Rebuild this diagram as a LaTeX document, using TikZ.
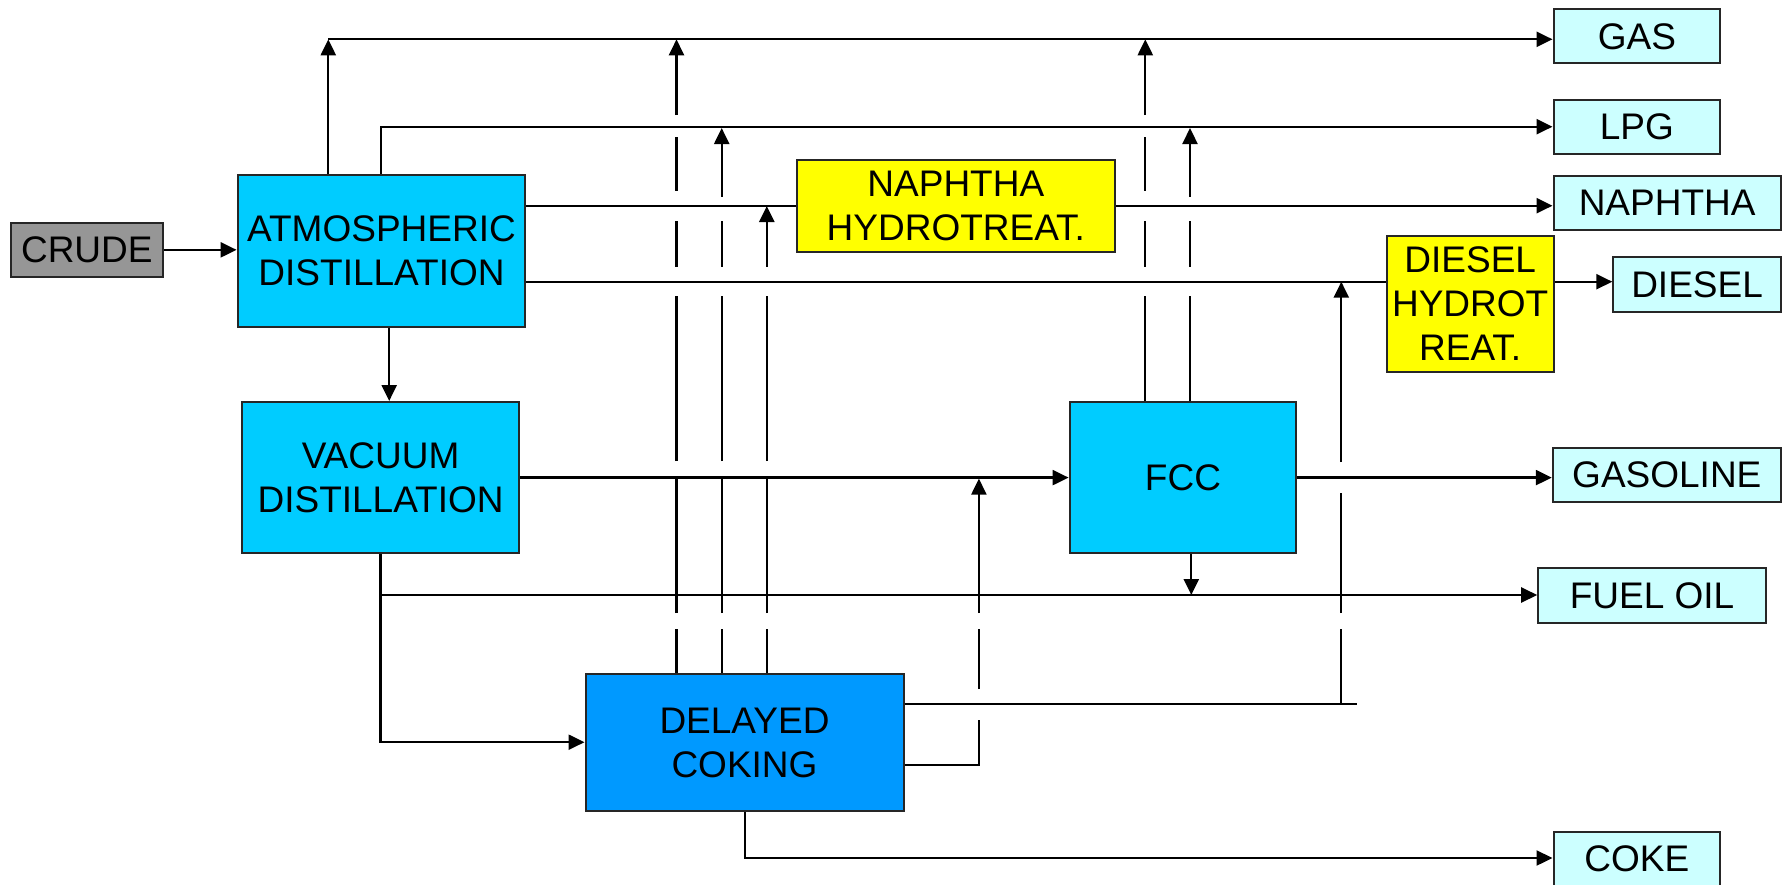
\documentclass[tikz,border=0pt]{standalone}
\usepackage{fontspec}
\setmainfont{Liberation Sans}
\usetikzlibrary{arrows.meta}
\definecolor{unitcyan}{HTML}{00CCFF}
\definecolor{cokeblue}{HTML}{0099FF}
\definecolor{prodcyan}{HTML}{CCFFFF}
\definecolor{crudegray}{HTML}{969696}
\definecolor{htyellow}{HTML}{FFFF00}
\definecolor{edgegray}{HTML}{262626}
\begin{document}
\begin{tikzpicture}[x=1pt,y=-1pt,
  box/.style={draw=edgegray,line width=2pt,inner sep=0pt,align=center,font=\fontsize{37}{44}\selectfont},
  unitbox/.style={box,fill=unitcyan},
  cokebox/.style={box,fill=cokeblue},
  prodbox/.style={box,fill=prodcyan},
  htbox/.style={box,fill=htyellow},
  feedbox/.style={box,fill=crudegray},
  flow/.style={line width=2.3pt,line cap=butt,draw=black},
  arr/.style={flow,-{Triangle[length=16pt,width=15pt]}}]
\useasboundingbox (0,0) rectangle (1786,884);
% nodes
\node[feedbox,minimum width=152.3pt,minimum height=54.3pt] (crude) at (86.85,249.85) {CRUDE};
\node[unitbox,minimum width=287.8pt,minimum height=151.7pt] (atm) at (381.5,250.85) {ATMOSPHERIC\\DISTILLATION};
\node[unitbox,minimum width=277.4pt,minimum height=151.4pt] (vac) at (380.6,477.7) {VACUUM\\DISTILLATION};
\node[htbox,minimum width=318.3pt,minimum height=91.7pt] (nht) at (955.85,206.15) {NAPHTHA\\HYDROTREAT.};
\node[htbox,minimum width=166.6pt,minimum height=135.7pt] (dht) at (1470.2,303.85) {DIESEL\\HYDROT\\REAT.};
\node[unitbox,minimum width=226.8pt,minimum height=151pt] (fcc) at (1183,477.5) {FCC};
\node[cokebox,minimum width=318pt,minimum height=137pt] (dc) at (744.5,742.5) {DELAYED\\COKING};
\node[prodbox,minimum width=166.7pt,minimum height=54pt] (gas) at (1636.85,36.3) {GAS};
\node[prodbox,minimum width=166.7pt,minimum height=54.3pt] (lpg) at (1636.85,126.85) {LPG};
\node[prodbox,minimum width=227.3pt,minimum height=54.3pt] (naph) at (1667.15,202.85) {NAPHTHA};
\node[prodbox,minimum width=167.5pt,minimum height=54.7pt] (diesel) at (1697.05,284.35) {DIESEL};
\node[prodbox,minimum width=228pt,minimum height=54.6pt] (gasoline) at (1666.8,475) {GASOLINE};
\node[prodbox,minimum width=227.6pt,minimum height=54.7pt] (fueloil) at (1652,595.65) {FUEL OIL};
\node[prodbox,minimum width=166.7pt,minimum height=54.6pt] (coke) at (1636.85,859) {COKE};
% junction coordinates
\coordinate (gA) at (328.3,39.3);
\coordinate (lA) at (381,126.7);
\coordinate (nA) at (0,205.7);
\coordinate (dA) at (0,281.7);
\coordinate (av) at (389.2,0);
\coordinate (vf) at (0,477.6);
\coordinate (vb) at (380.4,742.2);
\coordinate (fo) at (380.4,595);
\coordinate (ff) at (1191.3,595);
\coordinate (ck) at (744.7,858);
\coordinate (c1) at (676.5,39.3);
\coordinate (c2) at (721.7,128);
\coordinate (c3) at (766.8,206);
\coordinate (f1) at (1145.3,39.3);
\coordinate (f2) at (1190,128);
\coordinate (c4) at (978.9,478.6);
\coordinate (c5) at (1341.3,281.7);
\coordinate (dcd) at (1357,704);
\coordinate (dcf) at (978.9,765);
% crude
\draw[arr] (crude.east) -- (atm.west |- crude.east);
% atmospheric distillation products
\draw[arr] (atm.north -| gA) -- (gA);
\draw[arr] (gA) -- (gas.west |- gA);
\draw[arr] (atm.north -| lA) -- (lA) -- (lpg.west |- lA);
\draw[flow] (atm.east |- nA) -- (nht.west |- nA);
\draw[arr] (nht.east |- nA) -- (naph.west |- nA);
\draw[flow] (atm.east |- dA) -- (dht.west |- dA);
\draw[arr] (dht.east |- dA) -- (diesel.west |- dA);
\draw[arr] (atm.south -| av) -- (vac.north -| av);
% vacuum distillation
\draw[arr] (vac.east |- vf) -- (fcc.west |- vf);
\draw[arr] (fcc.east |- vf) -- (gasoline.west |- vf);
\draw[arr] (vac.south -| vb) -- (vb) -- (dc.west |- vb);
\draw[arr] (fo) -- (fueloil.west |- fo);
\draw[arr] (fcc.south -| ff) -- (ff);
% FCC overheads
\draw[arr] (fcc.north -| f1) -- (1145.3,296) (1145.3,266.7) -- (1145.3,220.7) (1145.3,190.7) -- (1145.3,136.7) (1145.3,115) -- (f1);
\draw[arr] (fcc.north -| f2) -- (1190,296) (1190,266.7) -- (1190,220.7) (1190,196.7) -- (f2);
% delayed coking overheads
\draw[arr] (dc.north -| c1) -- (676.5,629) (676.5,613) -- (676.5,476) (676.5,461) -- (676.5,296) (676.5,266.7) -- (676.5,220.7) (676.5,190.7) -- (676.5,136.7) (676.5,115) -- (c1);
\draw[arr] (dc.north -| c2) -- (721.7,629) (721.7,613) -- (721.7,476) (721.7,461) -- (721.7,296) (721.7,266.7) -- (721.7,220.7) (721.7,196.7) -- (c2);
\draw[arr] (dc.north -| c3) -- (766.8,629) (766.8,613) -- (766.8,476) (766.8,461) -- (766.8,296) (766.8,266.7) -- (c3);
% delayed coking side streams
\draw[flow] (dc.east |- dcd) -- (dcd);
\draw[arr] (c5 |- dcd) -- (1341.3,629) (1341.3,613) -- (1341.3,493) (1341.3,462) -- (c5);
\draw[arr] (dc.east |- dcf) -- (dcf) -- (978.9,719.7) (978.9,689) -- (978.9,629) (978.9,613) -- (c4);
\draw[arr] (dc.south -| ck) -- (ck) -- (coke.west |- ck);
\end{tikzpicture}
\end{document}
